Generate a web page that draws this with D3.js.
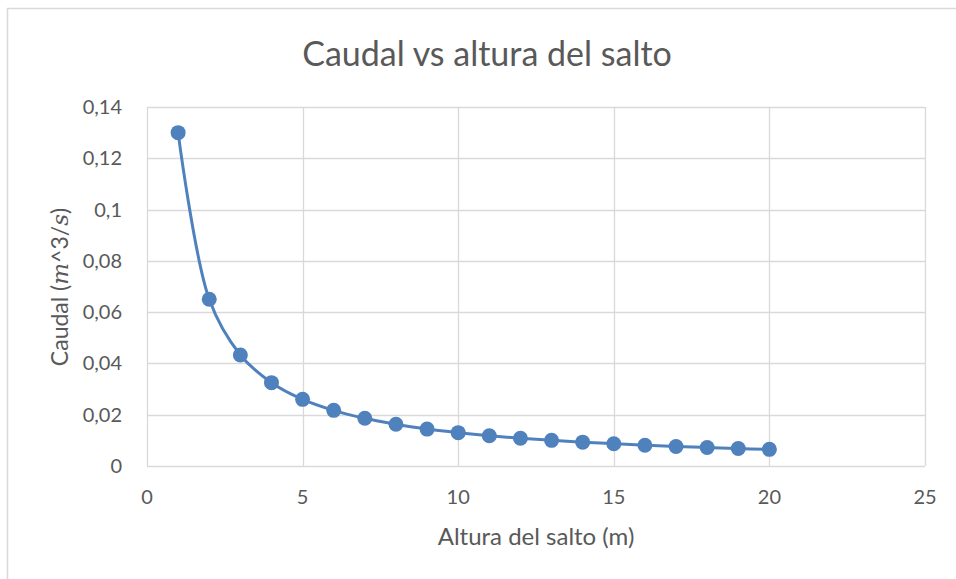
<!DOCTYPE html>
<html><head><meta charset="utf-8">
<script src="https://cdn.jsdelivr.net/npm/d3@7"></script>
<style>body{margin:0;background:#fff;}svg{display:block;}</style>
</head><body>
<svg id="c" width="956" height="579"></svg>
<script>
const xValues = [1,2,3,4,5,6,7,8,9,10,11,12,13,14,15,16,17,18,19,20];
const yValues = [0.13,0.065,0.0433,0.0325,0.026,0.0217,0.0186,0.0163,0.0144,0.013,0.0118,0.0108,0.01,0.0093,0.0087,0.0081,0.0076,0.0072,0.0068,0.0065];
const xTicks = [0,5,10,15,20,25];
const yTicks = [0,0.02,0.04,0.06,0.08,0.1,0.12,0.14];
const title = "Caudal vs altura del salto";
const xTitle = "Altura del salto (m)";

const svg = d3.select("#c");
const font = "Lato, 'Open Sans', sans-serif";
const textCol = "#595959";
const gridCol = "#d9d9d9";
const color = "#4f81bd";

svg.append("rect").attr("x",7.5).attr("y",8.5).attr("width",1000).attr("height",1000)
  .attr("fill","none").attr("stroke","#d9d9d9").attr("stroke-width",1.5);

const L=147, R=925, T=107, B=466;
const x = d3.scaleLinear().domain([0,25]).range([L,R]);
const y = d3.scaleLinear().domain([0,0.14]).range([B,T]);

svg.append("g").selectAll("line").data(yTicks).join("line")
  .attr("x1",L).attr("x2",R).attr("y1",d=>Math.round(y(d))+0.5).attr("y2",d=>Math.round(y(d))+0.5)
  .attr("stroke",gridCol).attr("stroke-width",1.3);
svg.append("g").selectAll("line").data(xTicks).join("line")
  .attr("y1",T).attr("y2",B).attr("x1",d=>Math.round(x(d))+0.5).attr("x2",d=>Math.round(x(d))+0.5)
  .attr("stroke",gridCol).attr("stroke-width",1.3);

const fmt = d => d3.format(".2~f")(d).replace(".",",");
svg.append("g").selectAll("text").data(yTicks).join("text")
  .attr("x",122).attr("y",d=>y(d)+7).attr("text-anchor","end")
  .attr("font-family",font).attr("font-size",20).attr("fill",textCol).text(fmt);
svg.append("g").selectAll("text").data(xTicks).join("text")
  .attr("x",d=>x(d)).attr("y",504).attr("text-anchor","middle")
  .attr("font-family",font).attr("font-size",20).attr("fill",textCol).text(d=>d);

svg.append("text").attr("x",487).attr("y",66).attr("text-anchor","middle")
  .attr("font-family",font).attr("font-size",34).attr("fill",textCol).text(title);
svg.append("text").attr("x",536).attr("y",545).attr("text-anchor","middle")
  .attr("font-family",font).attr("font-size",24).attr("fill",textCol).text(xTitle);
const yt = svg.append("text").attr("transform","translate(68,287) rotate(-90)").attr("text-anchor","middle")
  .attr("font-family",font).attr("font-size",23).attr("fill",textCol);
yt.append("tspan").text("Caudal (");
yt.append("tspan").attr("font-family","'DejaVu Serif', 'Liberation Serif', serif").attr("font-style","italic").text("m");
yt.append("tspan").text("^3/");
yt.append("tspan").attr("font-family","'DejaVu Serif', 'Liberation Serif', serif").attr("font-style","italic").text("s");
yt.append("tspan").text(")");

const data = xValues.map((v,i)=>({x:v,y:yValues[i]}));
const line = d3.line().x(d=>x(d.x)).y(d=>y(d.y)).curve(d3.curveCatmullRom.alpha(0.5));
svg.append("path").datum(data).attr("d",line).attr("fill","none").attr("stroke",color).attr("stroke-width",3);
svg.append("g").selectAll("circle").data(data).join("circle")
  .attr("cx",d=>x(d.x)).attr("cy",d=>y(d.y)).attr("r",7.5).attr("fill",color);
</script>
</body></html>
